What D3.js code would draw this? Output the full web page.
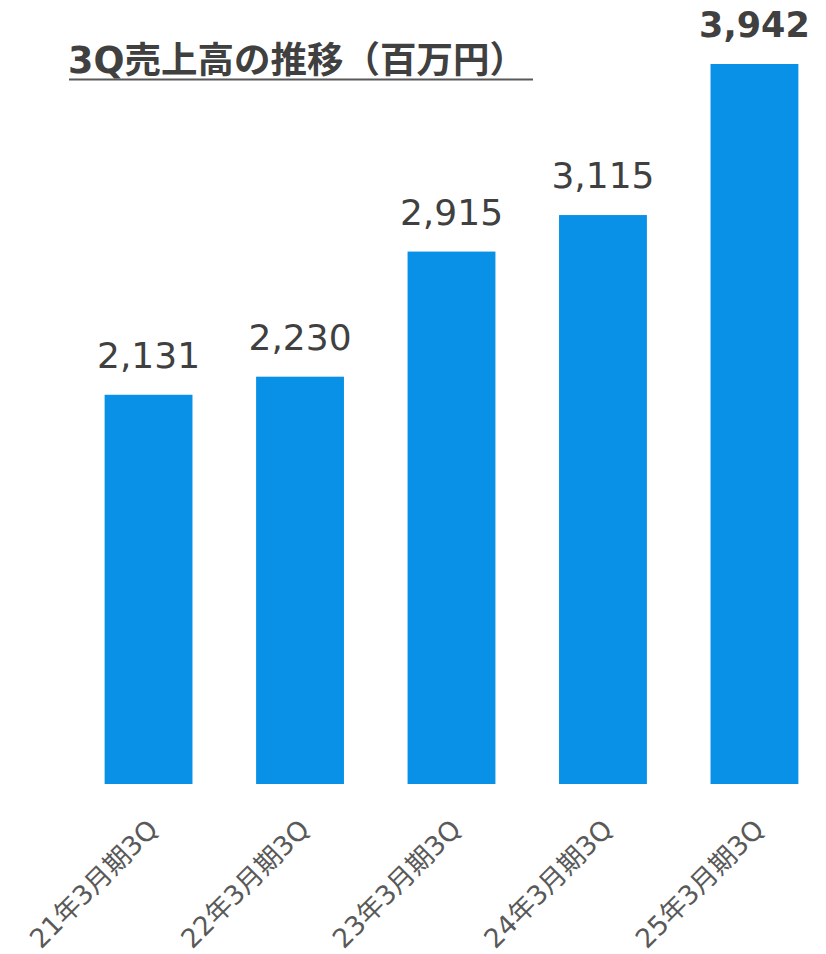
<!DOCTYPE html>
<html>
<head>
<meta charset="utf-8">
<title>3Q売上高の推移</title>
<script src="https://cdn.jsdelivr.net/npm/d3@7/dist/d3.min.js"></script>
<style>
  body { margin: 0; background: #fff; }
</style>
</head>
<body>
<script>
// データ
var categories = ["21年3月期3Q", "22年3月期3Q", "23年3月期3Q", "24年3月期3Q", "25年3月期3Q"];
var sales = [2131, 2230, 2915, 3115, 3942];
var titleText = "3Q売上高の推移（百万円）";

var W = 826, H = 954;
var baseY = 784, topY = 64;
var barColor = "#0891e6";
var textColor = "#404040";

var svg = d3.select("body").append("svg")
  .attr("width", W)
  .attr("height", H);

// 比例尺
var x = d3.scaleBand()
  .domain(categories)
  .range([41, 862])
  .padding(0.42);

var y = d3.scaleLinear()
  .domain([0, d3.max(sales)])
  .range([baseY, topY]);

// タイトル
svg.append("text")
  .attr("x", 68)
  .attr("y", 73)
  .attr("font-family", "'DejaVu Sans', 'Noto Sans CJK JP', sans-serif")
  .attr("font-weight", "bold")
  .attr("font-size", 36.5)
  .attr("fill", textColor)
  .text(titleText);

svg.append("line")
  .attr("x1", 69).attr("x2", 533)
  .attr("y1", 79.5).attr("y2", 79.5)
  .attr("stroke", "#595959")
  .attr("stroke-width", 2);

// 棒
svg.selectAll("rect.bar")
  .data(sales)
  .enter().append("rect")
  .attr("class", "bar")
  .attr("x", function(d, i) { return x(categories[i]); })
  .attr("y", function(d) { return y(d); })
  .attr("width", x.bandwidth())
  .attr("height", function(d) { return baseY - y(d); })
  .attr("fill", barColor);

// 値ラベル
var last = sales.length - 1;
svg.selectAll("text.val")
  .data(sales)
  .enter().append("text")
  .attr("class", "val")
  .attr("x", function(d, i) { return x(categories[i]) + x.bandwidth() / 2; })
  .attr("y", function(d) { return y(d) - 27; })
  .attr("text-anchor", "middle")
  .attr("font-family", "'DejaVu Sans', sans-serif")
  .attr("font-weight", function(d, i) { return i === last ? "bold" : "normal"; })
  .attr("font-size", function(d, i) { return i === last ? 35 : 36; })
  .attr("fill", textColor)
  .text(function(d) { return d3.format(",")(d); });

// x軸ラベル
var xAxis = d3.axisBottom(x).tickSize(0).tickPadding(0);
var gx = svg.append("g")
  .attr("transform", "translate(0," + baseY + ")")
  .call(xAxis);
gx.select(".domain").remove();
gx.selectAll(".tick text")
  .attr("font-family", "'DejaVu Sans', 'Noto Sans CJK JP', sans-serif")
  .attr("font-size", 26.5)
  .attr("fill", "#595959")
  .attr("text-anchor", "end")
  .attr("dy", null)
  .attr("y", null)
  .attr("transform", "translate(11,47) rotate(-45)");
</script>
</body>
</html>
